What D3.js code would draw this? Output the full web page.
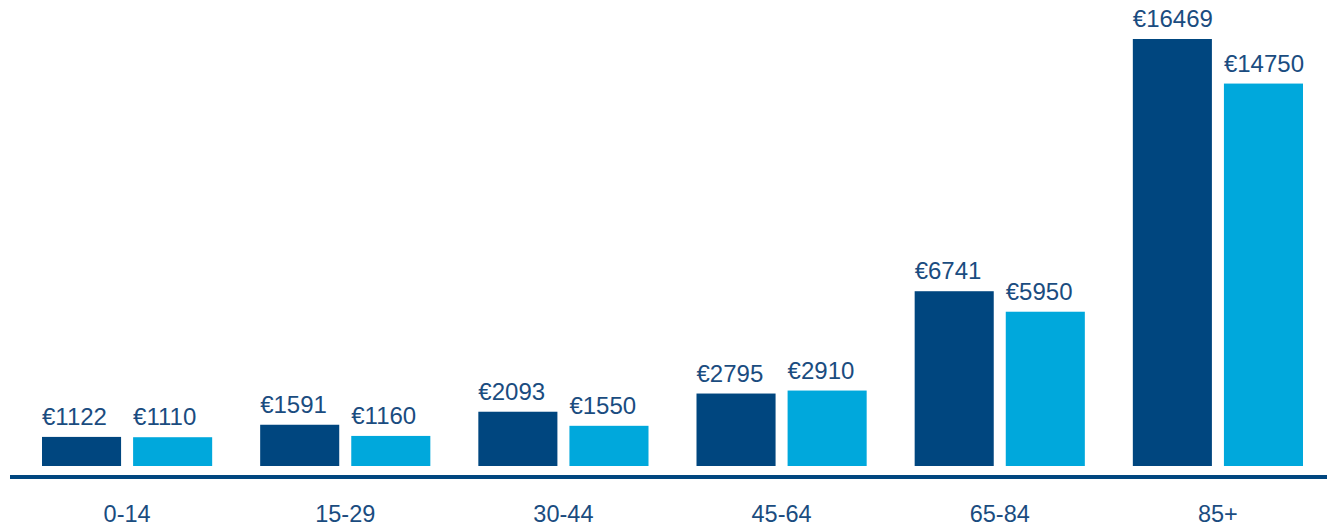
<!DOCTYPE html>
<html>
<head>
<meta charset="utf-8">
<script src="https://cdn.jsdelivr.net/npm/d3@7"></script>
<style>
  html, body { margin: 0; padding: 0; background: #fff; }
  svg { display: block; }
  text { font-family: "Liberation Sans", Arial, Helvetica, sans-serif; }
</style>
</head>
<body>
<div id="chart"></div>
<script>
// age groups and the two series (dark / light)
const ageGroups = ["0-14", "15-29", "30-44", "45-64", "65-84", "85+"];
const seriesA = [1122, 1591, 2093, 2795, 6741, 16469];
const seriesB = [1110, 1160, 1550, 2910, 5950, 14750];
const seriesColors = ["#00467f", "#00a8dc"];

const width = 1327, height = 526;
const baseY = 466, topY = 39;

const rows = ageGroups.map((g, i) => ({ group: g, values: [seriesA[i], seriesB[i]] }));

const svg = d3.select("#chart").append("svg")
    .attr("width", width)
    .attr("height", height);

const x0 = d3.scaleBand()
    .domain(ageGroups)
    .range([42, 1303])
    .paddingInner(0.22)
    .paddingOuter(0);

const x1 = d3.scaleBand()
    .domain([0, 1])
    .range([0, x0.bandwidth()])
    .paddingInner(0.132);

const y = d3.scaleLinear()
    .domain([0, d3.max(seriesA.concat(seriesB))])
    .range([baseY, topY]);

const groups = svg.selectAll("g.group")
    .data(rows)
    .join("g")
    .attr("class", "group")
    .attr("transform", d => `translate(${x0(d.group)},0)`);

groups.selectAll("rect")
    .data(d => d.values)
    .join("rect")
    .attr("x", (d, i) => x1(i))
    .attr("y", d => y(d))
    .attr("width", x1.bandwidth())
    .attr("height", d => y(0) - y(d))
    .attr("fill", (d, i) => seriesColors[i]);

// value labels above bars
groups.selectAll("text.val")
    .data(d => d.values)
    .join("text")
    .attr("class", "val")
    .attr("x", (d, i) => x1(i))
    .attr("y", d => y(d) - 12)
    .attr("fill", "#1a4c80")
    .style("font-size", "24px")
    .text(d => "€" + d);

// baseline axis
const axis = svg.append("g")
    .attr("transform", "translate(0,477)")
    .call(d3.axisBottom(x0).tickSize(0).tickPadding(0));
axis.select(".domain").remove();
axis.append("line")
    .attr("x1", 10).attr("x2", width)
    .attr("stroke", "#00467f")
    .attr("stroke-width", 4);
axis.selectAll(".tick text")
    .attr("dy", null)
    .attr("y", 45)
    .attr("fill", "#1a4c80")
    .style("font-family", "'Liberation Sans', Arial, Helvetica, sans-serif")
    .style("font-size", "23.5px");
</script>
</body>
</html>
